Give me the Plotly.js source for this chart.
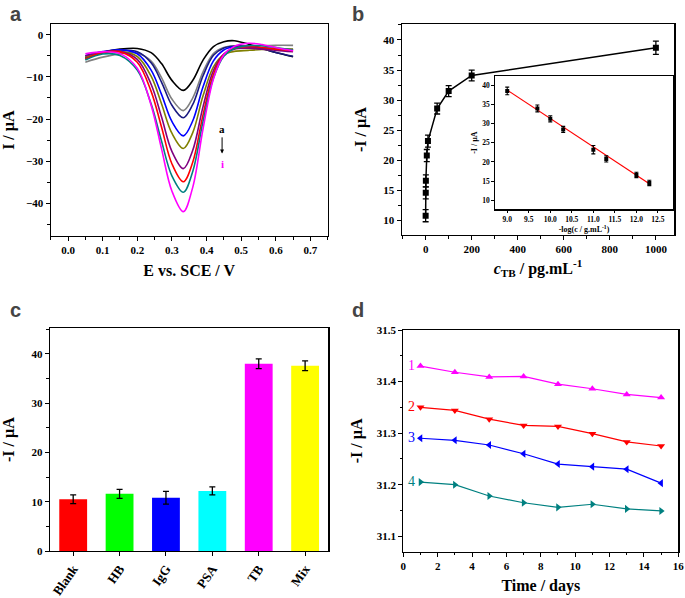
<!DOCTYPE html>
<html><head><meta charset="utf-8">
<script src="https://cdn.plot.ly/plotly-3.0.1.min.js"></script>
<style>html,body{margin:0;padding:0;background:#fff}#plot{width:685px;height:598px}</style>
</head><body><div id="plot"></div>
<script>
// ---------- Panel a: DPV curves ----------
const aX = [0.05,0.1,0.15,0.2,0.24,0.27,0.3,0.333,0.36,0.39,0.42,0.45,0.48,0.52,0.56,0.6,0.65];
const aBlack   = [-5.5,-4.2,-3.4,-3.23,-4.24,-6.84,-10.82,-13.2,-10.86,-6.0,-2.79,-1.65,-1.4,-2.2,-3.2,-4.2,-5.2];
const aGray    = [-6.5,-5.3,-4.52,-4.34,-6.26,-10.18,-15.26,-18.0,-15.05,-8.8,-4.46,-3.02,-2.6,-2.6,-2.6,-2.5,-2.5];
const aNavy    = [-5.6,-4.3,-3.63,-4.03,-6.66,-11.23,-16.74,-19.7,-16.61,-9.73,-4.87,-3.12,-2.7,-2.8,-3.3,-4.2,-5.1];
const aBlue    = [-5.0,-4.0,-3.58,-4.5,-8.37,-14.14,-20.58,-24.0,-20.48,-12.35,-6.19,-3.6,-2.85,-2.9,-3.1,-3.3,-3.5];
const aOlive   = [-5.3,-4.2,-3.94,-5.15,-9.83,-16.36,-23.38,-27.0,-23.29,-14.5,-7.62,-4.72,-3.94,-3.7,-3.5,-3.4,-3.4];
const aPurple  = [-5.0,-4.01,-3.93,-5.84,-11.75,-19.49,-27.7,-31.8,-27.5,-17.06,-8.49,-4.57,-3.4,-3.2,-3.4,-3.7,-4.0];
const aRed     = [-5.8,-4.22,-4.05,-6.52,-13.43,-21.9,-30.63,-34.9,-30.32,-19.01,-9.36,-4.7,-3.18,-2.8,-3.0,-3.4,-3.7];
const aTeal    = [-6.0,-4.57,-4.91,-8.39,-16.4,-25.23,-33.51,-37.4,-32.53,-20.57,-10.26,-5.06,-3.27,-2.6,-2.6,-3.0,-3.6];
const aMagenta = [-4.5,-4.04,-4.47,-7.94,-16.71,-27.05,-37.1,-42.0,-36.3,-22.32,-10.49,-4.75,-2.74,-2.0,-2.3,-3.0,-3.8];

// ---------- Panel b: calibration ----------
const bX   = [0, 0.5, 1, 5, 10, 50, 100, 200, 1000];
const bY   = [10.8, 14.6, 16.6, 20.8, 23.2, 28.6, 31.5, 34.1, 38.7];
const bErr = [1.0, 1.0, 1.0, 1.0, 1.0, 0.9, 0.9, 0.9, 1.1];
const insetX   = [9.0, 9.7, 10.0, 10.3, 11.0, 11.3, 12.0, 12.3];
const insetY   = [38.6, 34.0, 31.3, 28.5, 23.2, 20.8, 16.6, 14.5];
const insetErr = [1.0, 0.9, 0.8, 0.8, 1.1, 0.8, 0.7, 0.7];
const fitX = [9.0, 12.3];
const fitY = [38.8, 14.3];

// ---------- Panel c: selectivity ----------
const cCats = ['Blank','HB','IgG','PSA','TB','Mix'];
const cVals = [10.5, 11.6, 10.8, 12.2, 38.0, 37.6];
const cErr  = [0.9, 0.9, 1.3, 0.8, 1.0, 1.0];
const cColors = ['#ff0000','#00ff00','#0000ff','#00ffff','#ff00ff','#ffff00'];

// ---------- Panel d: stability ----------
const dDays = [1, 3, 5, 7, 9, 11, 13, 15];
const d1 = [31.430, 31.418, 31.409, 31.410, 31.395, 31.386, 31.375, 31.369];
const d2 = [31.350, 31.344, 31.327, 31.315, 31.313, 31.299, 31.283, 31.275];
const d3 = [31.290, 31.286, 31.277, 31.260, 31.240, 31.235, 31.230, 31.203];
const d4 = [31.205, 31.200, 31.178, 31.165, 31.156, 31.162, 31.153, 31.149];

const SERIF = 'Liberation Serif, Times New Roman, serif';
const W = 685, H = 598;
const dx = (a,b) => [a/W, b/W];
const dy = (top,bot) => [1-bot/H, 1-top/H];

const traces = [];
const aCurves = [[aBlack,'#000000'],[aGray,'#808080'],[aNavy,'#1a1a80'],[aBlue,'#0000ff'],[aOlive,'#808000'],[aPurple,'#800080'],[aRed,'#ff0000'],[aTeal,'#008080'],[aMagenta,'#ff00ff']];
aCurves.forEach(([ys,c]) => traces.push({x:aX, y:ys, xaxis:'x', yaxis:'y', mode:'lines', line:{color:c, width:1.6, shape:'spline', smoothing:1.0}, hoverinfo:'skip'}));

traces.push({x:bX, y:bY, xaxis:'x2', yaxis:'y2', mode:'lines+markers', line:{color:'#000', width:1.5},
  marker:{symbol:'square', size:6, color:'#000'}, error_y:{type:'data', array:bErr, color:'#000', thickness:1.3, width:3}});
traces.push({x:fitX, y:fitY, xaxis:'x3', yaxis:'y3', mode:'lines', line:{color:'#ff0000', width:1.2}});
traces.push({x:insetX, y:insetY, xaxis:'x3', yaxis:'y3', mode:'markers',
  marker:{symbol:'square', size:4, color:'#000'}, error_y:{type:'data', array:insetErr, color:'#000', thickness:1.1, width:2}});

traces.push({x:cCats, y:cVals, xaxis:'x4', yaxis:'y4', type:'bar', width:0.6, marker:{color:cColors, line:{width:0}},
  error_y:{type:'data', array:cErr, color:'#000', thickness:1.3, width:3}});

const dSeries = [[d1,'#ff00ff','triangle-up'],[d2,'#ff0000','triangle-down'],[d3,'#0000ff','triangle-left'],[d4,'#008080','triangle-right']];
dSeries.forEach(([ys,c,s]) => traces.push({x:dDays, y:ys, xaxis:'x5', yaxis:'y5', mode:'lines+markers', line:{color:c, width:1.2}, marker:{symbol:s, size:7, color:c}}));

const tickfont = (sz) => ({family:SERIF, size:sz, color:'#000', weight:'bold'});
const tfont = (sz) => ({family:SERIF, size:sz, color:'#000', weight:'bold'});
function ax(o) {
  return Object.assign({showgrid:false, zeroline:false, showline:true, linecolor:'#000', linewidth:1.2, mirror:true,
    ticks:'outside', ticklen:4, tickwidth:1, tickcolor:'#000', tickfont:tickfont(11), anchor:'free'}, o);
}

const layout = {
  width:W, height:H, margin:{l:0,r:0,t:0,b:0}, paper_bgcolor:'#fff', plot_bgcolor:'#fff', showlegend:false,
  xaxis: ax({domain:dx(50.7,327.7), range:[-0.05,0.75], dtick:0.1, tickformat:'.1f', anchor:'y',
    minor:{ticks:'outside', ticklen:2.5, dtick:0.05, tickcolor:'#000'},
    title:{text:'E vs. SCE / V', font:tfont(16), standoff:9}}),
  yaxis: ax({domain:dy(24.3,236), range:[-47.8,2.5], dtick:10, anchor:'x',
    minor:{ticks:'outside', ticklen:2.5, dtick:5, tickcolor:'#000'},
    title:{text:'I / µA', font:tfont(16), standoff:12}}),
  xaxis2: ax({domain:dx(401.7,674.3), range:[-104,1080], dtick:200, anchor:'y2',
    minor:{ticks:'outside', ticklen:2.5, dtick:100, tickcolor:'#000'},
    title:{text:'<i>c</i><sub>TB</sub> / pg.mL<sup>-1</sup>', font:tfont(16), standoff:8}}),
  yaxis2: ax({domain:dy(24.3,235), range:[7.6,42.6], dtick:5, anchor:'x2',
    minor:{ticks:'outside', ticklen:2.5, dtick:2.5, tickcolor:'#000'},
    title:{text:'-I / µA', font:tfont(16), standoff:12}}),
  xaxis3: ax({domain:dx(495,673), range:[8.716,12.85], dtick:0.5, tickformat:'.1f', anchor:'y3', ticklen:2.5, tickfont:tickfont(7.5),
    title:{text:'-log(c / g.mL<sup>-1</sup>)', font:tfont(8), standoff:2}}),
  yaxis3: ax({domain:dy(76,209.3), range:[7.6,42.5], dtick:5, anchor:'x3', ticklen:2.5, tickfont:tickfont(7.5),
    title:{text:'-I / µA', font:tfont(8), standoff:3}}),
  xaxis4: ax({domain:dx(50,328.3), range:[-0.5,5.5], anchor:'y4', tickangle:-55, tickfont:tickfont(13)}),
  yaxis4: ax({domain:dy(328.3,551), range:[0,45.2], dtick:10, anchor:'x4',
    minor:{ticks:'outside', ticklen:2.5, dtick:5, tickcolor:'#000'},
    title:{text:'-I / µA', font:tfont(16), standoff:14}}),
  xaxis5: ax({domain:dx(403.3,678.3), range:[0,16], dtick:2, anchor:'y5',
    minor:{ticks:'outside', ticklen:2.5, dtick:1, tickcolor:'#000'},
    title:{text:'Time / days', font:tfont(16), standoff:8}}),
  yaxis5: ax({domain:dy(330,551.7), range:[31.07,31.5], dtick:0.1, tickformat:'.1f', anchor:'x5',
    minor:{ticks:'outside', ticklen:2.5, dtick:0.05, tickcolor:'#000'},
    title:{text:'-I / µA', font:tfont(16), standoff:10}}),
  annotations: [
    {text:'a', xref:'paper', yref:'paper', x:8/W, y:1-1/H, xanchor:'left', yanchor:'top', showarrow:false, font:{family:'Liberation Sans, Arial', size:20, weight:'bold'}},
    {text:'b', xref:'paper', yref:'paper', x:350/W, y:1-1/H, xanchor:'left', yanchor:'top', showarrow:false, font:{family:'Liberation Sans, Arial', size:20, weight:'bold'}},
    {text:'c', xref:'paper', yref:'paper', x:8/W, y:1-297/H, xanchor:'left', yanchor:'top', showarrow:false, font:{family:'Liberation Sans, Arial', size:20, weight:'bold'}},
    {text:'d', xref:'paper', yref:'paper', x:350/W, y:1-297/H, xanchor:'left', yanchor:'top', showarrow:false, font:{family:'Liberation Sans, Arial', size:20, weight:'bold'}},
    {text:'a', xref:'x', yref:'y', x:0.445, y:-22.3, showarrow:false, font:{family:SERIF, size:11, weight:'bold', color:'#000'}},
    {text:'', xref:'x', yref:'y', axref:'x', ayref:'y', x:0.445, y:-28.2, ax:0.445, ay:-24.0, showarrow:true, arrowhead:2, arrowsize:0.8, arrowwidth:1, arrowcolor:'#000'},
    {text:'i', xref:'x', yref:'y', x:0.445, y:-30.6, showarrow:false, font:{family:SERIF, size:11, weight:'bold', color:'#ff00ff'}},
    {text:'1', xref:'x5', yref:'y5', x:0.5, y:31.432, showarrow:false, font:{family:SERIF, size:14, color:'#ff00ff'}},
    {text:'2', xref:'x5', yref:'y5', x:0.5, y:31.352, showarrow:false, font:{family:SERIF, size:14, color:'#ff0000'}},
    {text:'3', xref:'x5', yref:'y5', x:0.5, y:31.291, showarrow:false, font:{family:SERIF, size:14, color:'#0000ff'}},
    {text:'4', xref:'x5', yref:'y5', x:0.5, y:31.207, showarrow:false, font:{family:SERIF, size:14, color:'#008080'}}
  ]
};
Plotly.newPlot('plot', traces, layout, {staticPlot:true, displayModeBar:false});
</script></body></html>
